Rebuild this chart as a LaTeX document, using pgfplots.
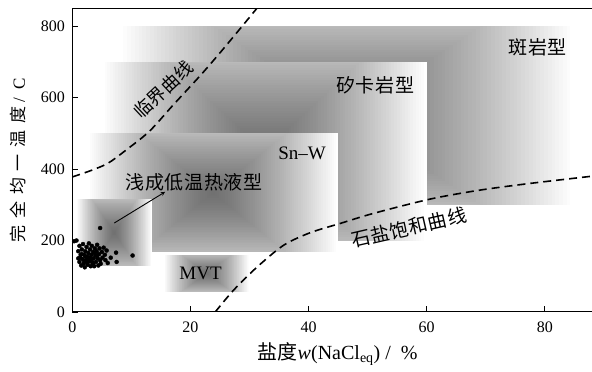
\documentclass[border=0pt]{standalone}
\usepackage{fontspec}
\setmainfont{Liberation Serif}
\newfontfamily\cjk[LetterSpace=3]{Noto Sans CJK SC}
\newfontfamily\cjkls[LetterSpace=40]{Noto Sans CJK SC}
\usepackage{pgfplots}
\pgfplotsset{compat=1.18}
% square-fountain shading of a field box: x1 x2 y1 y2 cx cy
\newcommand\pyrbox[6]{%
 \pgfplotsinvokeforeach{0,...,59}{%
  \pgfmathsetmacro\pyT{1-##1/60}%
  \pgfmathsetmacro\pyP{100*(0.56-0.56*\pyT^1.3)}%
  \pgfmathsetmacro\pyXa{#5-\pyT*(#5-#1)}%
  \pgfmathsetmacro\pyXb{#5+\pyT*(#2-#5)}%
  \pgfmathsetmacro\pyYa{max(#3,#6-1.7*\pyT*(#6-#3))}%
  \pgfmathsetmacro\pyYb{min(#4,#6+1.7*\pyT*(#4-#6))}%
  \edef\pyTmp{\noexpand\addplot[draw=none, fill=black!\pyP] coordinates {(\pyXa,\pyYa) (\pyXb,\pyYa) (\pyXb,\pyYb) (\pyXa,\pyYb)} -- cycle;}%
  \pyTmp
 }%
}
\begin{document}
\begin{tikzpicture}
\begin{axis}[
  scale only axis, width=519.2pt, height=303.4pt,
  xmin=0, xmax=88, ymin=0, ymax=850,
  xtick={0,20,40,60,80}, ytick={0,200,400,600,800},
  tick align=inside, xtick pos=bottom, ytick pos=left,
  major tick length=6pt,
  axis line style={line width=1pt},
  every tick/.style={black, line width=0.9pt},
  tick label style={font=\fontsize{16}{16}\selectfont},
  /pgf/number format/assume math mode=true,
  xticklabel style={yshift=-6pt},
  yticklabel style={xshift=-4pt},
  axis on top,
  xlabel={{\cjk\fontsize{20}{20}\selectfont 盐度}\fontsize{20}{20}\selectfont\textit{w}(NaCl\textsubscript{eq})\ /\ \ \%},
  xlabel style={at={(axis description cs:0.51,-0.138)}, anchor=center},
  ylabel={{\cjkls\fontsize{17}{17}\selectfont 完全均一温度}\fontsize{17}{17}\selectfont\ /\ \ C},
  ylabel style={at={(axis description cs:-0.104,0.5)}, anchor=center},
]
% porphyry
\pyrbox{8}{85}{300}{800}{46.5}{550}
% skarn
\pyrbox{5}{60}{200}{700}{32.5}{450}
% Sn-W
\pyrbox{2.6}{45}{167}{500}{23.8}{333}
% MVT
\pyrbox{15.5}{30}{57}{160}{22.7}{108}
% epithermal cluster box
\pyrbox{0.7}{13.5}{130}{315}{7.1}{222}

% critical curve
\addplot[smooth, line width=1.6pt, dash pattern=on 8pt off 5pt] coordinates {(0,378) (3,395) (6,416) (9,452) (13,505) (17,578) (22,668) (26,745) (31,845) (31.3,852)};
% halite saturation curve
\addplot[smooth, line width=1.6pt, dash pattern=on 8pt off 5pt] coordinates {(24.2,0) (27.3,61) (31.3,126) (35.8,187) (40.3,222) (45.4,248) (51,276) (60.6,316) (69,341) (77.6,360) (88,380)};

% arrow
\addplot[-stealth, line width=0.9pt] coordinates {(7.1,249) (15.7,336)};

% fluid inclusion data
\addplot[only marks, mark=*, mark size=2pt, black] coordinates {
(0.3,198) (0.7,200)
(1.0,150) (1.0,170) (1.2,140) (1.2,185) (1.4,160) (1.5,130) (1.6,175) (1.7,148)
(1.8,190) (1.9,135) (2.0,160) (2.1,125) (2.2,170) (2.3,145) (2.4,182) (2.5,155)
(2.6,132) (2.7,165) (2.8,192) (2.9,142) (3.0,175) (3.0,152) (3.1,128) (3.2,160)
(3.3,185) (3.4,138) (3.5,168) (3.6,150) (3.7,128) (3.8,178) (3.9,158) (4.0,140)
(4.1,170) (4.2,188) (4.3,150) (4.4,130) (4.5,162) (4.6,178) (4.7,145) (4.8,135)
(5.0,168) (5.1,152) (5.3,180) (5.5,160) (5.6,145) (5.8,172)
(1.3,152) (2.0,142) (2.5,138) (3.3,148) (3.8,165) (4.2,158) (2.2,155) (2.7,150) (1.6,162) (3.5,135)
(4.7,235) (6.0,137) (6.5,152) (7.4,166) (7.5,140) (10.2,158)
};

% labels
\node[font=\cjk\fontsize{19}{19}\selectfont] at (axis cs:78.8,742) {斑岩型};
\node[font=\cjk\fontsize{19}{19}\selectfont] at (axis cs:51.3,635) {矽卡岩型};
\node[font=\fontsize{19}{19}\selectfont] at (axis cs:38.9,444) {Sn–W};
\node[font=\cjk\fontsize{19}{19}\selectfont] at (axis cs:20.6,364) {浅成低温热液型};
\node[font=\fontsize{19}{19}\selectfont] at (axis cs:21.7,108) {MVT};
\node[font=\cjk\fontsize{18}{18}\selectfont, rotate=43, inner sep=0pt] at (axis cs:15.4,622) {临界曲线};
\node[font=\cjk\fontsize{19}{19}\selectfont, rotate=13] at (axis cs:57,236) {石盐饱和曲线};
\end{axis}
\pgfresetboundingbox
\path (current axis.south west) ++(-72.3pt,-59.3pt) coordinate (bl);
\path (current axis.north east) ++(-0.6pt,8.3pt) coordinate (tr);
\path[use as bounding box] (bl) rectangle (tr);
\end{tikzpicture}
\end{document}
